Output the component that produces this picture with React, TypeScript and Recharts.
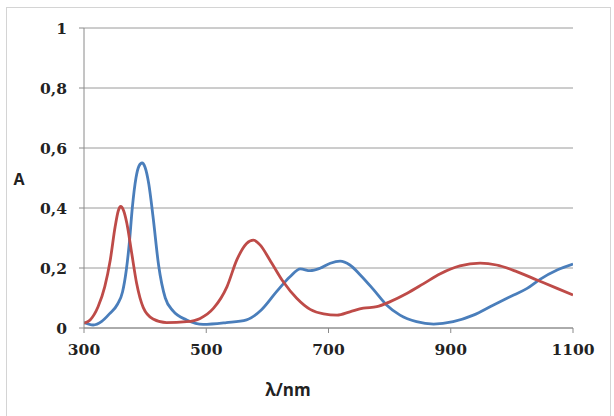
import { LineChart, Line, XAxis, YAxis, CartesianGrid } from 'recharts';

const xTicks = [300, 500, 700, 900, 1100];
const yTicks = [0, 0.2, 0.4, 0.6, 0.8, 1];

const blueWavelength = [
  300, 315, 329, 342, 355, 363, 369, 374, 379, 385, 390, 395, 400, 406, 413, 422, 433, 446, 468, 495,
  533, 566, 590, 615, 637, 654, 670, 686, 703, 719, 735, 752, 774, 795, 817, 844, 872, 904, 937, 970,
  1003, 1025, 1046, 1074, 1100
];
const blueAbsorbance = [
  0.018, 0.01, 0.022, 0.048, 0.08, 0.12, 0.19, 0.28, 0.4, 0.5, 0.54, 0.55, 0.535, 0.48, 0.37, 0.21,
  0.1, 0.056, 0.027, 0.012, 0.018, 0.027, 0.06, 0.121, 0.171, 0.197, 0.191, 0.199, 0.216, 0.223, 0.21,
  0.177, 0.127, 0.077, 0.043, 0.021, 0.013, 0.021, 0.043, 0.077, 0.11, 0.132, 0.162, 0.193, 0.213
];

const redWavelength = [
  300, 310, 323, 334, 343, 351, 356, 360, 365, 370, 378, 386, 397, 413, 435, 468, 490, 512, 534, 550,
  566, 577, 588, 604, 626, 648, 670, 692, 714, 735, 757, 779, 801, 828, 855, 883, 915, 948, 975, 1008,
  1041, 1074, 1100
];
const redAbsorbance = [
  0.016, 0.027, 0.071, 0.138, 0.227, 0.338, 0.39, 0.405, 0.39, 0.35, 0.25, 0.15, 0.068, 0.03, 0.018,
  0.021, 0.032, 0.066, 0.138, 0.227, 0.282, 0.293, 0.277, 0.227, 0.154, 0.099, 0.062, 0.047, 0.043,
  0.054, 0.066, 0.071, 0.088, 0.115, 0.147, 0.181, 0.207, 0.216, 0.21, 0.188, 0.16, 0.132, 0.11
];

const blueData = blueWavelength.map((wl, i) => ({ wl, a: blueAbsorbance[i] }));
const redData = redWavelength.map((wl, i) => ({ wl, a: redAbsorbance[i] }));

const tickStyle = {
  fill: '#222',
  fontFamily: '"DejaVu Serif", serif',
  fontWeight: 'bold' as const,
  fontSize: 15.5,
};

export default function App() {
  return (
    <div style={{ position: 'absolute', left: 0, top: 0, width: 614, height: 416, background: '#fff' }}>
      <div
        style={{
          position: 'absolute',
          left: 6,
          top: 7,
          width: 603,
          height: 412,
          border: '1px solid #d4d4d4',
        }}
      />
      <LineChart width={614} height={416} margin={{ top: 28, right: 41, bottom: 0, left: 0 }}>
        <CartesianGrid vertical={false} stroke="#9a9a9a" />
        <XAxis
          type="number"
          dataKey="wl"
          domain={[300, 1100]}
          ticks={xTicks}
          height={88}
          tickSize={5}
          tickMargin={11}
          stroke="#8a8a8a"
          tick={tickStyle}
          allowDataOverflow
        />
        <YAxis
          type="number"
          domain={[0, 1]}
          ticks={yTicks}
          width={84}
          tickSize={5}
          tickMargin={12}
          stroke="#8a8a8a"
          tick={tickStyle}
          tickFormatter={(v: number) => String(v).replace('.', ',')}
        />
        <Line
          data={blueData}
          dataKey="a"
          type="monotone"
          stroke="#4A7EBB"
          strokeWidth={2.8}
          dot={false}
          isAnimationActive={false}
        />
        <Line
          data={redData}
          dataKey="a"
          type="monotone"
          stroke="#BE4B48"
          strokeWidth={2.8}
          dot={false}
          isAnimationActive={false}
        />
      </LineChart>
      <div
        style={{
          position: 'absolute',
          left: 19,
          top: 179,
          transform: 'translate(-50%, -50%)',
          fontFamily: '"Open Sans", sans-serif',
          fontWeight: 'bold',
          fontSize: 16,
          color: '#222',
        }}
      >
        A
      </div>
      <div
        style={{
          position: 'absolute',
          left: 288,
          top: 389,
          transform: 'translate(-50%, -50%)',
          fontFamily: '"Open Sans", sans-serif',
          fontWeight: 'bold',
          fontSize: 17,
          color: '#222',
          whiteSpace: 'nowrap',
        }}
      >
        λ/nm
      </div>
    </div>
  );
}
